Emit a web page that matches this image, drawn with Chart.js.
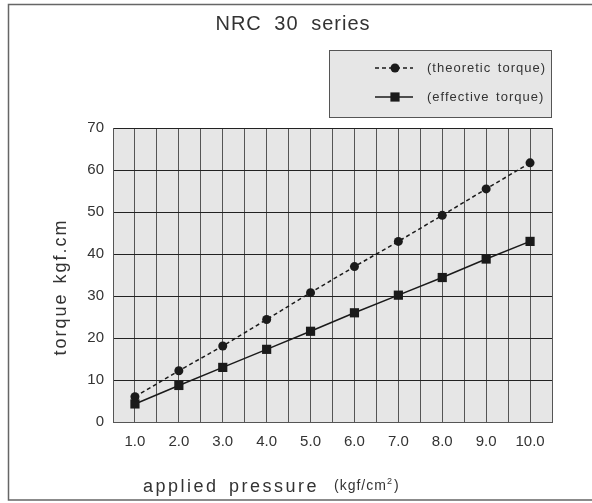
<!DOCTYPE html>
<html>
<head>
<meta charset="utf-8">
<script src="https://cdn.jsdelivr.net/npm/chart.js@4"></script>
<style>
  html, body { margin: 0; padding: 0; background: #fff; }
  #wrap { width: 592px; height: 503px; }
</style>
</head>
<body>
<div id="wrap"><canvas id="chart" width="592" height="503"></canvas></div>
<script>
// values
const pressure = [1.0, 2.0, 3.0, 4.0, 5.0, 6.0, 7.0, 8.0, 9.0, 10.0];
const theoreticTorque = [6.0, 12.2, 18.1, 24.4, 30.8, 37.0, 43.0, 49.2, 55.5, 61.7];
const effectiveTorque = [4.3, 8.7, 13.0, 17.3, 21.6, 26.0, 30.2, 34.4, 38.8, 43.0];
const yTicks = [0, 10, 20, 30, 40, 50, 60, 70];
const seriesNames = ['(theoretic torque)', '(effective torque)'];

const FONT = '"Liberation Sans", Arial, sans-serif';
const INK = '#333';

// background of plot area
const plotBg = {
  id: 'plotBg',
  beforeDraw(chart) {
    const { ctx, chartArea: a } = chart;
    ctx.save();
    ctx.fillStyle = '#e6e6e6';
    ctx.fillRect(a.left, a.top, a.right - a.left, a.bottom - a.top);
    ctx.restore();
  }
};

// frame, title, legend box, axis titles
const decor = {
  id: 'decor',
  afterDraw(chart) {
    const ctx = chart.ctx;
    ctx.save();

    // outer frame
    ctx.strokeStyle = '#666';
    ctx.lineWidth = 1.5;
    ctx.beginPath();
    ctx.moveTo(592, 4.5);
    ctx.lineTo(8.5, 4.5);
    ctx.lineTo(8.5, 500);
    ctx.lineTo(592, 500);
    ctx.stroke();

    ctx.fillStyle = INK;
    ctx.textBaseline = 'middle';

    // title
    ctx.font = '20px ' + FONT;
    ctx.letterSpacing = '1px';
    ctx.wordSpacing = '6px';
    ctx.textAlign = 'center';
    ctx.fillText('NRC 30 series', 293, 24);

    // legend box
    ctx.letterSpacing = '1px';
    ctx.wordSpacing = '2px';
    ctx.fillStyle = '#e6e6e6';
    ctx.fillRect(329, 50, 222, 67);
    ctx.strokeStyle = '#555';
    ctx.lineWidth = 1;
    ctx.strokeRect(329.5, 50.5, 222, 67);

    const rows = [68, 97];
    chart.data.datasets.forEach((ds, i) => {
      const y = rows[i];
      ctx.strokeStyle = ds.borderColor;
      ctx.lineWidth = ds.borderWidth;
      ctx.setLineDash(ds.borderDash || []);
      ctx.beginPath();
      ctx.moveTo(375, y);
      ctx.lineTo(413, y);
      ctx.stroke();
      ctx.setLineDash([]);
      ctx.fillStyle = ds.pointBackgroundColor;
      if (ds.pointStyle === 'circle') {
        ctx.beginPath();
        ctx.arc(395, y, ds.pointRadius, 0, Math.PI * 2);
        ctx.fill();
      } else {
        const s = Math.SQRT1_2 * ds.pointRadius;
        ctx.fillRect(395 - s, y - s, 2 * s, 2 * s);
      }
      ctx.fillStyle = INK;
      ctx.font = '13px ' + FONT;
      ctx.textAlign = 'left';
      ctx.fillText(seriesNames[i], 427, y);
    });

    // y axis title
    ctx.save();
    ctx.translate(61, 287);
    ctx.rotate(-Math.PI / 2);
    ctx.font = '18px ' + FONT;
    ctx.letterSpacing = '2px';
    ctx.wordSpacing = '2px';
    ctx.textAlign = 'center';
    ctx.fillText('torque kgf.cm', 0, 0);
    ctx.restore();

    // x axis title
    ctx.font = '18px ' + FONT;
    ctx.letterSpacing = '2.5px';
    ctx.wordSpacing = '3px';
    ctx.textAlign = 'left';
    ctx.textBaseline = 'alphabetic';
    ctx.fillText('applied pressure', 143, 492);
    ctx.font = '14px ' + FONT;
    ctx.letterSpacing = '1px';
    ctx.fillText('(kgf/cm', 334, 490);
    const w = ctx.measureText('(kgf/cm').width;
    ctx.font = '9px ' + FONT;
    ctx.fillText('2', 334 + w, 484);
    const w2 = ctx.measureText('2').width;
    ctx.font = '14px ' + FONT;
    ctx.fillText(')', 334 + w + w2 + 1, 490);

    ctx.restore();
  }
};

const toPoints = (ys) => pressure.map((x, i) => ({ x: x, y: ys[i] }));

new Chart(document.getElementById('chart'), {
  type: 'line',
  data: {
    datasets: [
      {
        label: seriesNames[0],
        data: toPoints(theoreticTorque),
        borderColor: '#1a1a1a',
        borderWidth: 1.5,
        borderDash: [4, 3],
        pointStyle: 'circle',
        pointRadius: 4.5,
        pointBackgroundColor: '#1a1a1a',
        pointBorderWidth: 0
      },
      {
        label: seriesNames[1],
        data: toPoints(effectiveTorque),
        borderColor: '#1a1a1a',
        borderWidth: 1.5,
        pointStyle: 'rect',
        pointRadius: 6.5,
        pointBackgroundColor: '#1a1a1a',
        pointBorderWidth: 0
      }
    ]
  },
  options: {
    responsive: false,
    animation: false,
    layout: { padding: { top: 128, right: 40, left: 0, bottom: 0 } },
    plugins: {
      legend: { display: false },
      title: { display: false },
      tooltip: { enabled: false }
    },
    scales: {
      x: {
        type: 'linear',
        min: 0.5,
        max: 10.5,
        afterFit: (s) => { s.height = 81; },
        afterBuildTicks: (s) => {
          const t = [];
          for (let v = 0.5; v <= 10.5; v += 0.5) t.push({ value: v });
          s.ticks = t;
        },
        ticks: {
          autoSkip: false,
          maxRotation: 0,
          padding: 11,
          color: INK,
          font: { family: FONT, size: 15 },
          callback: (v) => (Number.isInteger(v) && pressure.includes(v)) ? v.toFixed(1) : ''
        },
        grid: { color: '#555', lineWidth: 1, drawTicks: false },
        border: { color: '#555', width: 1 }
      },
      y: {
        min: 0,
        max: 70,
        afterFit: (s) => { s.width = 113; },
        afterBuildTicks: (s) => { s.ticks = yTicks.map(v => ({ value: v })); },
        ticks: {
          padding: 9,
          color: INK,
          font: { family: FONT, size: 15 }
        },
        grid: { color: '#222', lineWidth: 1, drawTicks: false },
        border: { color: '#555', width: 1 }
      }
    }
  },
  plugins: [plotBg, decor]
});
</script>
</body>
</html>
